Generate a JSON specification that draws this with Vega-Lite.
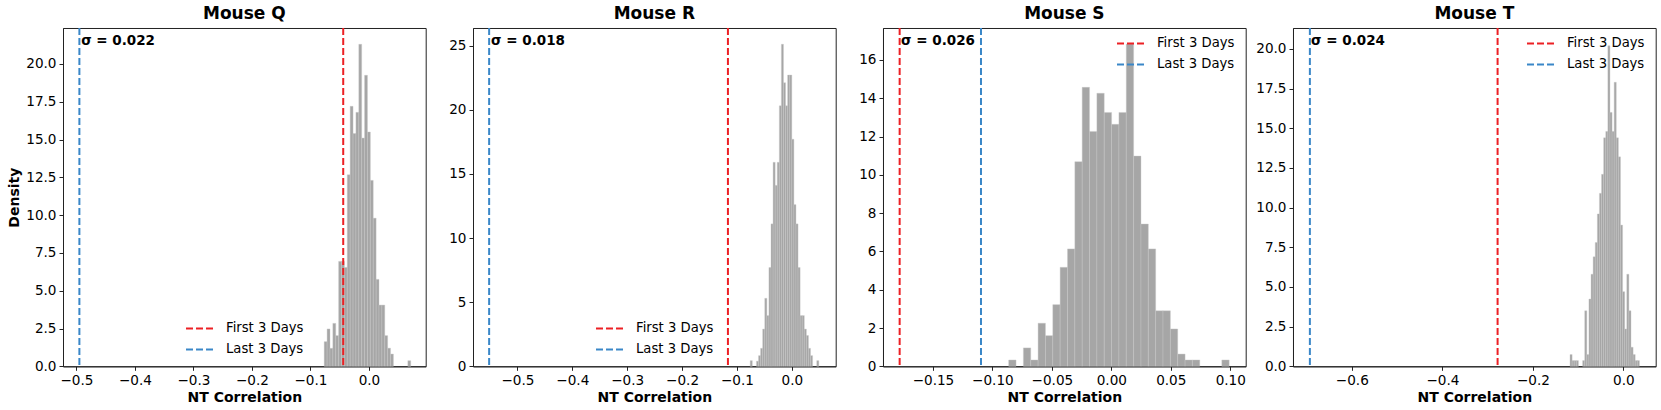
{
  "$schema": "https://vega.github.io/schema/vega-lite/v6.json",
  "padding": {"left": 7, "top": 4, "right": 5, "bottom": 4},
  "bounds": "flush",
  "spacing": 47,
  "background": "white",
  "config": {
    "font": "DejaVu Sans",
    "view": {"stroke": "#222", "strokeWidth": 1},
    "axis": {"domainColor": "#222", "tickColor": "#222", "labelColor": "#000", "titleColor": "#000", "labelFontSize": 13.6, "titleFontSize": 14, "titleFontWeight": "bold", "grid": false, "tickSize": 4, "labelPadding": 3, "domainWidth": 1, "titlePadding": 4},
    "axisX": {"labelExpr": "replace(datum.label, '-', '\u2212')"},
    "title": {"fontSize": 17, "fontWeight": "bold", "color": "#000", "offset": 4},
    "legend": {"labelFontSize": 13.2, "labelColor": "#000", "symbolType": "stroke", "symbolStrokeWidth": 2, "symbolDash": [7, 3], "symbolSize": 729, "labelOffset": 12, "rowPadding": 0, "padding": 0}
  },
  "resolve": {"scale": {"color": "independent"}, "legend": {"color": "independent"}},
  "datasets": {
    "histQ": [
      {"b0": -0.0765, "b1": -0.07157, "density": 1.63},
      {"b0": -0.07157, "b1": -0.06664, "density": 2.47},
      {"b0": -0.06664, "b1": -0.06171, "density": 1.19},
      {"b0": -0.06171, "b1": -0.05678, "density": 2.84},
      {"b0": -0.05678, "b1": -0.05185, "density": 2.03},
      {"b0": -0.05185, "b1": -0.04692, "density": 6.94},
      {"b0": -0.04692, "b1": -0.04199, "density": 6.94},
      {"b0": -0.04199, "b1": -0.03706, "density": 6.54},
      {"b0": -0.03706, "b1": -0.03213, "density": 12.67},
      {"b0": -0.03213, "b1": -0.0272, "density": 17.2},
      {"b0": -0.0272, "b1": -0.02227, "density": 15.4},
      {"b0": -0.02227, "b1": -0.01734, "density": 16.8},
      {"b0": -0.01734, "b1": -0.01241, "density": 21.3},
      {"b0": -0.01241, "b1": -0.00748, "density": 15.1},
      {"b0": -0.00748, "b1": -0.00255, "density": 19.25},
      {"b0": -0.00255, "b1": 0.00238, "density": 15.5},
      {"b0": 0.00238, "b1": 0.00731, "density": 12.3},
      {"b0": 0.00731, "b1": 0.01224, "density": 9.8},
      {"b0": 0.01224, "b1": 0.01717, "density": 5.75},
      {"b0": 0.01717, "b1": 0.0221, "density": 4.05},
      {"b0": 0.0221, "b1": 0.02703, "density": 4.05},
      {"b0": 0.02703, "b1": 0.03196, "density": 2.03},
      {"b0": 0.03196, "b1": 0.03689, "density": 1.2},
      {"b0": 0.03689, "b1": 0.04182, "density": 0.81},
      {"b0": 0.06647, "b1": 0.0714, "density": 0.37}
    ],
    "histR": [
      {"b0": -0.0758, "b1": -0.07201, "density": 0.44},
      {"b0": -0.06443, "b1": -0.06064, "density": 0.4},
      {"b0": -0.06064, "b1": -0.05685, "density": 0.83},
      {"b0": -0.05685, "b1": -0.05306, "density": 1.4},
      {"b0": -0.05306, "b1": -0.04927, "density": 2.9},
      {"b0": -0.04927, "b1": -0.04548, "density": 5.3},
      {"b0": -0.04548, "b1": -0.04169, "density": 3.95},
      {"b0": -0.04169, "b1": -0.0379, "density": 7.7},
      {"b0": -0.0379, "b1": -0.03411, "density": 11.1},
      {"b0": -0.03411, "b1": -0.03032, "density": 15.9},
      {"b0": -0.03032, "b1": -0.02653, "density": 14.1},
      {"b0": -0.02653, "b1": -0.02274, "density": 15.9},
      {"b0": -0.02274, "b1": -0.01895, "density": 20.3},
      {"b0": -0.01895, "b1": -0.01516, "density": 25.1},
      {"b0": -0.01516, "b1": -0.01137, "density": 22.1},
      {"b0": -0.01137, "b1": -0.00758, "density": 20.3},
      {"b0": -0.00758, "b1": -0.00379, "density": 22.7},
      {"b0": -0.00379, "b1": 0.0, "density": 22.7},
      {"b0": 0.0, "b1": 0.00379, "density": 17.7},
      {"b0": 0.00379, "b1": 0.00758, "density": 12.6},
      {"b0": 0.00758, "b1": 0.01137, "density": 11.1},
      {"b0": 0.01137, "b1": 0.01516, "density": 7.7},
      {"b0": 0.01516, "b1": 0.01895, "density": 3.95},
      {"b0": 0.01895, "b1": 0.02274, "density": 3.95},
      {"b0": 0.02274, "b1": 0.02653, "density": 2.9},
      {"b0": 0.02653, "b1": 0.03032, "density": 2.4},
      {"b0": 0.03032, "b1": 0.03411, "density": 1.4},
      {"b0": 0.03411, "b1": 0.0379, "density": 0.83},
      {"b0": 0.04548, "b1": 0.04927, "density": 0.44}
    ],
    "histS": [
      {"b0": -0.0863, "b1": -0.08012, "density": 0.33},
      {"b0": -0.07394, "b1": -0.06776, "density": 0.96},
      {"b0": -0.06776, "b1": -0.06158, "density": 0.33},
      {"b0": -0.06158, "b1": -0.0554, "density": 2.25},
      {"b0": -0.0554, "b1": -0.04922, "density": 1.6},
      {"b0": -0.04922, "b1": -0.04304, "density": 3.22},
      {"b0": -0.04304, "b1": -0.03686, "density": 5.17},
      {"b0": -0.03686, "b1": -0.03068, "density": 6.13},
      {"b0": -0.03068, "b1": -0.0245, "density": 10.69},
      {"b0": -0.0245, "b1": -0.01832, "density": 14.57},
      {"b0": -0.01832, "b1": -0.01214, "density": 12.27},
      {"b0": -0.01214, "b1": -0.00596, "density": 14.26},
      {"b0": -0.00596, "b1": 0.00022, "density": 13.26},
      {"b0": 0.00022, "b1": 0.0064, "density": 12.64},
      {"b0": 0.0064, "b1": 0.01258, "density": 13.26},
      {"b0": 0.01258, "b1": 0.01876, "density": 16.83},
      {"b0": 0.01876, "b1": 0.02494, "density": 10.98},
      {"b0": 0.02494, "b1": 0.03112, "density": 7.43},
      {"b0": 0.03112, "b1": 0.0373, "density": 6.13},
      {"b0": 0.0373, "b1": 0.04348, "density": 2.9},
      {"b0": 0.04348, "b1": 0.04966, "density": 2.9},
      {"b0": 0.04966, "b1": 0.05584, "density": 1.95},
      {"b0": 0.05584, "b1": 0.06202, "density": 0.64},
      {"b0": 0.06202, "b1": 0.0682, "density": 0.33},
      {"b0": 0.0682, "b1": 0.07438, "density": 0.33},
      {"b0": 0.09292, "b1": 0.0991, "density": 0.33}
    ],
    "histT": [
      {"b0": -0.118, "b1": -0.11335, "density": 0.74},
      {"b0": -0.11335, "b1": -0.10871, "density": 0.36},
      {"b0": -0.10871, "b1": -0.10406, "density": 0.36},
      {"b0": -0.10406, "b1": -0.09942, "density": 0.36},
      {"b0": -0.09012, "b1": -0.08548, "density": 0.36},
      {"b0": -0.08548, "b1": -0.08083, "density": 3.5},
      {"b0": -0.08083, "b1": -0.07619, "density": 0.74},
      {"b0": -0.07619, "b1": -0.07154, "density": 4.24},
      {"b0": -0.07154, "b1": -0.06689, "density": 5.8},
      {"b0": -0.06689, "b1": -0.06225, "density": 6.9},
      {"b0": -0.06225, "b1": -0.0576, "density": 7.8},
      {"b0": -0.0576, "b1": -0.05296, "density": 9.6},
      {"b0": -0.05296, "b1": -0.04831, "density": 10.9},
      {"b0": -0.04831, "b1": -0.04366, "density": 12.1},
      {"b0": -0.04366, "b1": -0.03902, "density": 14.4},
      {"b0": -0.03902, "b1": -0.03437, "density": 14.8},
      {"b0": -0.03437, "b1": -0.02973, "density": 20.2},
      {"b0": -0.02973, "b1": -0.02508, "density": 16.0},
      {"b0": -0.02508, "b1": -0.02043, "density": 14.8},
      {"b0": -0.02043, "b1": -0.01579, "density": 17.9},
      {"b0": -0.01579, "b1": -0.01114, "density": 14.4},
      {"b0": -0.01114, "b1": -0.0065, "density": 13.2},
      {"b0": -0.0065, "b1": -0.00185, "density": 8.9},
      {"b0": -0.00185, "b1": 0.0028, "density": 4.7},
      {"b0": 0.0028, "b1": 0.00744, "density": 2.35},
      {"b0": 0.00744, "b1": 0.01209, "density": 5.8},
      {"b0": 0.01209, "b1": 0.01673, "density": 3.5},
      {"b0": 0.01673, "b1": 0.02138, "density": 1.2},
      {"b0": 0.02138, "b1": 0.02603, "density": 0.74},
      {"b0": 0.02603, "b1": 0.03067, "density": 0.36},
      {"b0": 0.03067, "b1": 0.03532, "density": 0.36}
    ],
    "lines": [
      {"panel": "Q", "series": "First 3 Days", "x": -0.044},
      {"panel": "Q", "series": "Last 3 Days", "x": -0.495},
      {"panel": "R", "series": "First 3 Days", "x": -0.1164},
      {"panel": "R", "series": "Last 3 Days", "x": -0.5516},
      {"panel": "S", "series": "First 3 Days", "x": -0.178},
      {"panel": "S", "series": "Last 3 Days", "x": -0.1096},
      {"panel": "T", "series": "First 3 Days", "x": -0.278},
      {"panel": "T", "series": "Last 3 Days", "x": -0.6927}
    ],
    "sigma": [
      {"panel": "Q", "label": "σ = 0.022", "x": -0.492, "y": 21.53},
      {"panel": "R", "label": "σ = 0.018", "x": -0.548, "y": 25.37},
      {"panel": "S", "label": "σ = 0.026", "x": -0.1768, "y": 17.0},
      {"panel": "T", "label": "σ = 0.024", "x": -0.690, "y": 20.51}
    ]
  },
  "hconcat": [
    {
      "width": 362.7, "height": 338.3,
      "title": "Mouse Q",
      "layer": [
        {"data": {"name": "histQ"}, "mark": {"type": "bar", "color": "#a6a6a6", "stroke": "#c8c8c8", "strokeWidth": 0.4},
         "encoding": {
           "x": {"field": "b0", "type": "quantitative", "title": "NT Correlation", "scale": {"domain": [-0.523, 0.097], "nice": false, "zero": false}, "axis": {"values": [-0.5, -0.4, -0.3, -0.2, -0.1, 0], "format": ".1f"}},
           "x2": {"field": "b1"},
           "y": {"field": "density", "type": "quantitative", "title": "Density", "scale": {"domain": [0, 22.38], "nice": false}, "axis": {"values": [0, 2.5, 5, 7.5, 10, 12.5, 15, 17.5, 20], "format": ".1f"}},
           "y2": {"datum": 0}
         }},
        {"data": {"name": "lines"}, "transform": [{"filter": "datum.panel === 'Q'"}], "mark": {"type": "rule", "strokeDash": [7, 3], "strokeWidth": 2},
         "encoding": {
           "x": {"field": "x", "type": "quantitative", "title": "NT Correlation"},
           "color": {"field": "series", "type": "nominal", "scale": {"domain": ["First 3 Days", "Last 3 Days"], "range": ["#ec2024", "#3a87c8"]}, "legend": {"title": null, "orient": "none", "legendX": 122, "legendY": 286}}
         }},
        {"data": {"name": "sigma"}, "transform": [{"filter": "datum.panel === 'Q'"}], "mark": {"type": "text", "fontWeight": "bold", "fontSize": 13.5, "align": "left", "baseline": "middle", "color": "#000"},
         "encoding": {
           "x": {"field": "x", "type": "quantitative", "title": "NT Correlation"},
           "y": {"field": "y", "type": "quantitative", "title": "Density"},
           "text": {"field": "label"}
         }}
      ]
    },
    {
      "width": 362.7, "height": 338.3,
      "title": "Mouse R",
      "layer": [
        {"data": {"name": "histR"}, "mark": {"type": "bar", "color": "#a6a6a6", "stroke": "#c8c8c8", "strokeWidth": 0.4},
         "encoding": {
           "x": {"field": "b0", "type": "quantitative", "title": "NT Correlation", "scale": {"domain": [-0.581, 0.08], "nice": false, "zero": false}, "axis": {"values": [-0.5, -0.4, -0.3, -0.2, -0.1, 0], "format": ".1f"}},
           "x2": {"field": "b1"},
           "y": {"field": "density", "type": "quantitative", "title": null, "scale": {"domain": [0, 26.37], "nice": false}, "axis": {"values": [0, 5, 10, 15, 20, 25], "format": "d"}},
           "y2": {"datum": 0}
         }},
        {"data": {"name": "lines"}, "transform": [{"filter": "datum.panel === 'R'"}], "mark": {"type": "rule", "strokeDash": [7, 3], "strokeWidth": 2},
         "encoding": {
           "x": {"field": "x", "type": "quantitative", "title": "NT Correlation"},
           "color": {"field": "series", "type": "nominal", "scale": {"domain": ["First 3 Days", "Last 3 Days"], "range": ["#ec2024", "#3a87c8"]}, "legend": {"title": null, "orient": "none", "legendX": 122, "legendY": 286}}
         }},
        {"data": {"name": "sigma"}, "transform": [{"filter": "datum.panel === 'R'"}], "mark": {"type": "text", "fontWeight": "bold", "fontSize": 13.5, "align": "left", "baseline": "middle", "color": "#000"},
         "encoding": {
           "x": {"field": "x", "type": "quantitative", "title": "NT Correlation"},
           "y": {"field": "y", "type": "quantitative", "title": null},
           "text": {"field": "label"}
         }}
      ]
    },
    {
      "width": 362.7, "height": 338.3,
      "title": "Mouse S",
      "layer": [
        {"data": {"name": "histS"}, "mark": {"type": "bar", "color": "#a6a6a6", "stroke": "#c8c8c8", "strokeWidth": 0.4},
         "encoding": {
           "x": {"field": "b0", "type": "quantitative", "title": "NT Correlation", "scale": {"domain": [-0.192, 0.113], "nice": false, "zero": false}, "axis": {"values": [-0.15, -0.1, -0.05, 0, 0.05, 0.1], "format": ".2f"}},
           "x2": {"field": "b1"},
           "y": {"field": "density", "type": "quantitative", "title": null, "scale": {"domain": [0, 17.67], "nice": false}, "axis": {"values": [0, 2, 4, 6, 8, 10, 12, 14, 16], "format": "d"}},
           "y2": {"datum": 0}
         }},
        {"data": {"name": "lines"}, "transform": [{"filter": "datum.panel === 'S'"}], "mark": {"type": "rule", "strokeDash": [7, 3], "strokeWidth": 2},
         "encoding": {
           "x": {"field": "x", "type": "quantitative", "title": "NT Correlation"},
           "color": {"field": "series", "type": "nominal", "scale": {"domain": ["First 3 Days", "Last 3 Days"], "range": ["#ec2024", "#3a87c8"]}, "legend": {"title": null, "orient": "none", "legendX": 233, "legendY": 1}}
         }},
        {"data": {"name": "sigma"}, "transform": [{"filter": "datum.panel === 'S'"}], "mark": {"type": "text", "fontWeight": "bold", "fontSize": 13.5, "align": "left", "baseline": "middle", "color": "#000"},
         "encoding": {
           "x": {"field": "x", "type": "quantitative", "title": "NT Correlation"},
           "y": {"field": "y", "type": "quantitative", "title": null},
           "text": {"field": "label"}
         }}
      ]
    },
    {
      "width": 362.7, "height": 338.3,
      "title": "Mouse T",
      "layer": [
        {"data": {"name": "histT"}, "mark": {"type": "bar", "color": "#a6a6a6", "stroke": "#c8c8c8", "strokeWidth": 0.4},
         "encoding": {
           "x": {"field": "b0", "type": "quantitative", "title": "NT Correlation", "scale": {"domain": [-0.73, 0.0713], "nice": false, "zero": false}, "axis": {"values": [-0.6, -0.4, -0.2, 0], "format": ".1f"}},
           "x2": {"field": "b1"},
           "y": {"field": "density", "type": "quantitative", "title": null, "scale": {"domain": [0, 21.32], "nice": false}, "axis": {"values": [0, 2.5, 5, 7.5, 10, 12.5, 15, 17.5, 20], "format": ".1f"}},
           "y2": {"datum": 0}
         }},
        {"data": {"name": "lines"}, "transform": [{"filter": "datum.panel === 'T'"}], "mark": {"type": "rule", "strokeDash": [7, 3], "strokeWidth": 2},
         "encoding": {
           "x": {"field": "x", "type": "quantitative", "title": "NT Correlation"},
           "color": {"field": "series", "type": "nominal", "scale": {"domain": ["First 3 Days", "Last 3 Days"], "range": ["#ec2024", "#3a87c8"]}, "legend": {"title": null, "orient": "none", "legendX": 233, "legendY": 1}}
         }},
        {"data": {"name": "sigma"}, "transform": [{"filter": "datum.panel === 'T'"}], "mark": {"type": "text", "fontWeight": "bold", "fontSize": 13.5, "align": "left", "baseline": "middle", "color": "#000"},
         "encoding": {
           "x": {"field": "x", "type": "quantitative", "title": "NT Correlation"},
           "y": {"field": "y", "type": "quantitative", "title": null},
           "text": {"field": "label"}
         }}
      ]
    }
  ]
}
